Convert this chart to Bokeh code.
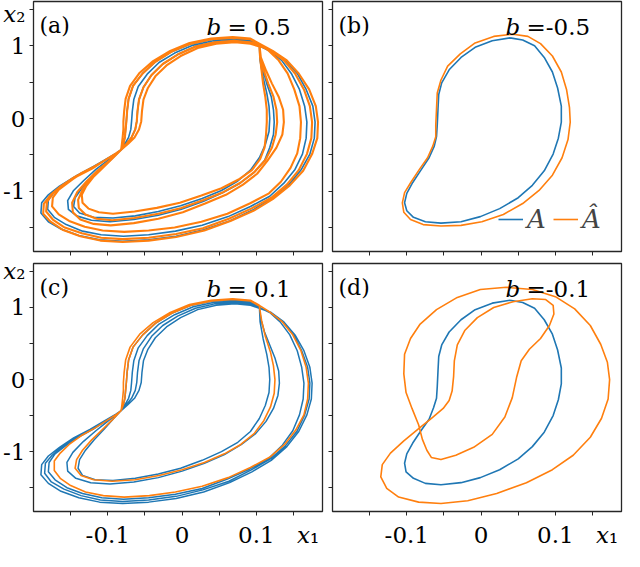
from bokeh.plotting import figure
from bokeh.layouts import gridplot
from bokeh.models import Range1d, FixedTicker, Label, Legend, LegendItem
from bokeh.embed import file_html
from bokeh.resources import INLINE

TRUE_COLOR = "#1f77b4"
PRED_COLOR = "#ff7f0e"
FRAME_COLOR = "#262626"
SERIF = "DejaVu Serif"

X_LIMITS = (-0.2, 0.189)
Y_LIMITS = (-1.83, 1.61)
X_TICKS = [-0.15, -0.1, -0.05, 0.0, 0.05, 0.1, 0.15]
# the axis names x1 / x2 sit at the last (unlabelled) tick of each axis, as in the picture
X_TICK_LABELS = ["", "-0.1", "", "0", "", "0.1", "\u00a0\u00a0\u00a0\u00a0\U0001D465\u2081"]
Y_TICKS = [-1.5, -1.0, -0.5, 0.0, 0.5, 1.0, 1.5]
Y_TICK_LABELS = ["", "-1", "", "0", "", "1", "\U0001D465\u2082"]
PANEL_TAGS = ["(a)", "(b)", "(c)", "(d)"]
B_VALUES = ["0.5", "-0.5", "0.1", "-0.1"]
LEGEND_LABELS = ["A", "\u00c2"]

# ---- panels (a) and (c): strands ----
PINCH = (-0.082, -0.43)

S1 = [(-0.073, -0.35), (-0.064, -0.26), (-0.058, -0.15), (-0.055, -0.04), (-0.054, 0.10), (-0.052, 0.26),
      (-0.046, 0.42), (-0.036, 0.58), (-0.021, 0.73), (-0.002, 0.86), (0.021, 0.97), (0.046, 1.03),
      (0.071, 1.05), (0.092, 1.03), (0.104, 0.99)]
S2 = [(-0.075, -0.35), (-0.068, -0.26), (-0.063, -0.15), (-0.061, -0.04), (-0.060, 0.10), (-0.058, 0.26),
      (-0.052, 0.43), (-0.041, 0.60), (-0.026, 0.75), (-0.006, 0.88), (0.018, 0.99), (0.044, 1.05),
      (0.070, 1.07), (0.092, 1.05), (0.104, 1.00)]
S3 = [(-0.077, -0.35), (-0.072, -0.26), (-0.069, -0.15), (-0.068, -0.04), (-0.067, 0.10), (-0.065, 0.26),
      (-0.059, 0.44), (-0.047, 0.61), (-0.031, 0.77), (-0.010, 0.90), (0.015, 1.01), (0.042, 1.07),
      (0.069, 1.09), (0.092, 1.07), (0.104, 1.01)]
S4 = [(-0.079, -0.35), (-0.077, -0.26), (-0.076, -0.15), (-0.075, -0.04), (-0.074, 0.10), (-0.072, 0.27),
      (-0.066, 0.45), (-0.053, 0.62), (-0.036, 0.78), (-0.014, 0.92), (0.012, 1.03), (0.040, 1.09),
      (0.068, 1.11), (0.092, 1.09), (0.104, 1.02)]
S5 = [(-0.081, -0.35), (-0.080, -0.26), (-0.079, -0.15), (-0.079, -0.04), (-0.078, 0.10), (-0.076, 0.27),
      (-0.070, 0.45), (-0.057, 0.63), (-0.039, 0.79), (-0.016, 0.93), (0.010, 1.04), (0.039, 1.10),
      (0.068, 1.12), (0.092, 1.10), (0.104, 1.03)]

C_OUT1 = [(0.120, 0.93), (0.137, 0.80), (0.152, 0.62), (0.164, 0.40), (0.172, 0.17), (0.175, -0.05),
          (0.174, -0.27), (0.168, -0.49), (0.157, -0.72), (0.141, -0.93), (0.120, -1.12), (0.094, -1.28),
          (0.064, -1.43), (0.029, -1.56), (-0.008, -1.65), (-0.045, -1.70), (-0.080, -1.72), (-0.111, -1.70),
          (-0.139, -1.64), (-0.163, -1.55), (-0.180, -1.44), (-0.190, -1.32), (-0.189, -1.18), (-0.180, -1.06),
          (-0.165, -0.94), (-0.146, -0.81), (-0.124, -0.69), (-0.104, -0.57), (-0.089, -0.48)]
C_OUT2 = [(0.119, 0.93), (0.136, 0.80), (0.150, 0.62), (0.161, 0.40), (0.169, 0.17), (0.172, -0.05),
          (0.171, -0.27), (0.165, -0.49), (0.155, -0.71), (0.139, -0.92), (0.119, -1.10), (0.092, -1.26),
          (0.063, -1.41), (0.028, -1.53), (-0.008, -1.62), (-0.045, -1.67), (-0.080, -1.69), (-0.110, -1.67),
          (-0.136, -1.61), (-0.159, -1.52), (-0.176, -1.42), (-0.185, -1.30), (-0.184, -1.16), (-0.175, -1.05),
          (-0.161, -0.93), (-0.143, -0.81), (-0.122, -0.69), (-0.103, -0.57), (-0.089, -0.48)]
C_OUT3 = [(0.118, 0.93), (0.132, 0.80), (0.145, 0.62), (0.155, 0.40), (0.161, 0.17), (0.164, -0.05),
          (0.163, -0.27), (0.158, -0.49), (0.149, -0.71), (0.135, -0.91), (0.117, -1.09), (0.091, -1.24),
          (0.061, -1.38), (0.027, -1.51), (-0.009, -1.59), (-0.045, -1.64), (-0.079, -1.66), (-0.108, -1.64),
          (-0.134, -1.58), (-0.155, -1.50), (-0.171, -1.39), (-0.180, -1.28), (-0.179, -1.15), (-0.171, -1.03),
          (-0.157, -0.92), (-0.140, -0.80), (-0.120, -0.69), (-0.102, -0.57), (-0.088, -0.48)]
C_OUT_P = [(0.119, 0.93), (0.135, 0.80), (0.149, 0.62), (0.160, 0.40), (0.167, 0.17), (0.170, -0.05),
           (0.169, -0.27), (0.164, -0.49), (0.153, -0.70), (0.138, -0.90), (0.119, -1.07), (0.092, -1.22),
           (0.062, -1.36), (0.027, -1.48), (-0.009, -1.56), (-0.044, -1.61), (-0.078, -1.63), (-0.106, -1.61),
           (-0.130, -1.56), (-0.150, -1.47), (-0.164, -1.37), (-0.172, -1.26), (-0.172, -1.13), (-0.164, -1.02),
           (-0.152, -0.90), (-0.136, -0.78), (-0.117, -0.67), (-0.100, -0.56), (-0.088, -0.48)]
C_IN1 = [(0.105, 0.80), (0.109, 0.57), (0.114, 0.35), (0.117, 0.17), (0.118, 0.00), (0.117, -0.18),
         (0.112, -0.36), (0.104, -0.54), (0.092, -0.72), (0.075, -0.87), (0.053, -1.00), (0.027, -1.12),
         (-0.002, -1.23), (-0.032, -1.31), (-0.063, -1.37), (-0.093, -1.40), (-0.117, -1.39), (-0.134, -1.33),
         (-0.140, -1.23), (-0.138, -1.11), (-0.130, -0.98), (-0.118, -0.83), (-0.105, -0.69), (-0.093, -0.55)]
C_IN2 = [(0.106, 0.84), (0.111, 0.66), (0.118, 0.48), (0.125, 0.30), (0.130, 0.12), (0.131, -0.05),
         (0.129, -0.22), (0.123, -0.40), (0.113, -0.58), (0.099, -0.75), (0.080, -0.90), (0.057, -1.04),
         (0.030, -1.16), (0.000, -1.27), (-0.032, -1.36), (-0.065, -1.42), (-0.097, -1.45), (-0.123, -1.43),
         (-0.143, -1.37), (-0.154, -1.27), (-0.155, -1.15), (-0.147, -1.01), (-0.133, -0.86), (-0.116, -0.71),
         (-0.099, -0.57)]
C_IN_P = [(0.107, 0.82), (0.112, 0.60), (0.119, 0.38), (0.123, 0.19), (0.125, 0.00), (0.124, -0.19),
          (0.119, -0.38), (0.110, -0.57), (0.097, -0.75), (0.079, -0.90), (0.057, -1.03), (0.030, -1.15),
          (0.000, -1.25), (-0.031, -1.33), (-0.063, -1.39), (-0.094, -1.41), (-0.119, -1.39), (-0.136, -1.33),
          (-0.144, -1.23), (-0.142, -1.11), (-0.134, -0.98), (-0.122, -0.84), (-0.108, -0.70), (-0.094, -0.56)]

A_OUT_T1 = [(0.121, 0.93), (0.139, 0.80), (0.155, 0.62), (0.167, 0.40), (0.176, 0.17), (0.179, -0.05),
            (0.178, -0.27), (0.172, -0.49), (0.160, -0.71), (0.143, -0.92), (0.121, -1.10), (0.095, -1.26),
            (0.064, -1.41), (0.029, -1.53), (-0.008, -1.62), (-0.045, -1.67), (-0.080, -1.69), (-0.111, -1.67),
            (-0.139, -1.61), (-0.163, -1.52), (-0.180, -1.42), (-0.190, -1.30), (-0.189, -1.16), (-0.180, -1.05),
            (-0.165, -0.93), (-0.146, -0.81), (-0.124, -0.69), (-0.104, -0.57), (-0.089, -0.48)]
A_OUT_T2 = [(0.118, 0.93), (0.134, 0.80), (0.147, 0.62), (0.158, 0.40), (0.165, 0.17), (0.168, -0.05),
            (0.167, -0.27), (0.162, -0.49), (0.152, -0.70), (0.137, -0.89), (0.118, -1.07), (0.092, -1.21),
            (0.062, -1.35), (0.027, -1.47), (-0.009, -1.55), (-0.045, -1.60), (-0.079, -1.62), (-0.109, -1.60),
            (-0.134, -1.55), (-0.156, -1.46), (-0.172, -1.36), (-0.181, -1.25), (-0.180, -1.12), (-0.172, -1.01),
            (-0.158, -0.90), (-0.141, -0.78), (-0.121, -0.67), (-0.102, -0.56), (-0.088, -0.48)]
A_OUT_P1 = [(0.122, 0.93), (0.141, 0.80), (0.157, 0.62), (0.171, 0.40), (0.180, 0.17), (0.183, -0.05),
            (0.182, -0.27), (0.175, -0.49), (0.163, -0.72), (0.145, -0.92), (0.122, -1.11), (0.096, -1.27),
            (0.065, -1.41), (0.030, -1.54), (-0.008, -1.63), (-0.045, -1.68), (-0.080, -1.70), (-0.110, -1.68),
            (-0.137, -1.62), (-0.161, -1.53), (-0.177, -1.42), (-0.187, -1.31), (-0.186, -1.17), (-0.177, -1.05),
            (-0.163, -0.93), (-0.144, -0.80), (-0.123, -0.69), (-0.103, -0.57), (-0.089, -0.48)]
A_OUT_P2 = [(0.120, 0.93), (0.137, 0.80), (0.152, 0.62), (0.164, 0.40), (0.172, 0.17), (0.175, -0.05),
            (0.174, -0.27), (0.168, -0.49), (0.157, -0.71), (0.141, -0.91), (0.120, -1.09), (0.093, -1.24),
            (0.063, -1.38), (0.028, -1.51), (-0.008, -1.59), (-0.045, -1.64), (-0.080, -1.66), (-0.109, -1.64),
            (-0.135, -1.58), (-0.158, -1.50), (-0.174, -1.39), (-0.183, -1.28), (-0.182, -1.15), (-0.174, -1.03),
            (-0.160, -0.92), (-0.142, -0.80), (-0.121, -0.69), (-0.103, -0.57), (-0.089, -0.48)]
A_OUT_P3 = [(0.117, 0.93), (0.130, 0.80), (0.142, 0.62), (0.151, 0.40), (0.158, 0.17), (0.160, -0.05),
            (0.159, -0.27), (0.155, -0.48), (0.146, -0.68), (0.133, -0.87), (0.117, -1.03), (0.091, -1.17),
            (0.061, -1.31), (0.026, -1.42), (-0.010, -1.50), (-0.045, -1.54), (-0.078, -1.56), (-0.107, -1.54),
            (-0.131, -1.49), (-0.152, -1.41), (-0.166, -1.32), (-0.175, -1.21), (-0.174, -1.09), (-0.166, -0.98),
            (-0.153, -0.88), (-0.137, -0.76), (-0.118, -0.66), (-0.101, -0.56), (-0.088, -0.48)]
A_IN_T1 = [(0.105, 0.84), (0.109, 0.66), (0.114, 0.48), (0.120, 0.30), (0.123, 0.12), (0.124, -0.05),
           (0.123, -0.22), (0.118, -0.40), (0.111, -0.58), (0.097, -0.74), (0.078, -0.89), (0.055, -1.02),
           (0.029, -1.14), (-0.001, -1.25), (-0.032, -1.33), (-0.065, -1.39), (-0.097, -1.42), (-0.122, -1.40),
           (-0.142, -1.34), (-0.153, -1.25), (-0.154, -1.13), (-0.146, -0.99), (-0.132, -0.85), (-0.116, -0.70),
           (-0.099, -0.57)]
A_IN_T2 = [(0.105, 0.80), (0.109, 0.57), (0.114, 0.35), (0.117, 0.17), (0.118, 0.00), (0.117, -0.18),
           (0.112, -0.36), (0.104, -0.54), (0.092, -0.71), (0.075, -0.86), (0.053, -0.99), (0.027, -1.10),
           (-0.002, -1.20), (-0.032, -1.28), (-0.063, -1.34), (-0.093, -1.37), (-0.119, -1.36), (-0.138, -1.30),
           (-0.146, -1.21), (-0.144, -1.09), (-0.135, -0.96), (-0.122, -0.82), (-0.108, -0.68), (-0.094, -0.55)]
A_IN_P1 = [(0.106, 0.84), (0.113, 0.66), (0.121, 0.48), (0.130, 0.30), (0.136, 0.12), (0.137, -0.05),
           (0.135, -0.22), (0.127, -0.40), (0.115, -0.58), (0.101, -0.76), (0.082, -0.91), (0.059, -1.05),
           (0.031, -1.17), (0.001, -1.29), (-0.032, -1.38), (-0.065, -1.44), (-0.096, -1.47), (-0.119, -1.45),
           (-0.137, -1.39), (-0.147, -1.29), (-0.148, -1.16), (-0.141, -1.01), (-0.128, -0.86), (-0.113, -0.71),
           (-0.097, -0.57)]
A_IN_P2 = [(0.106, 0.84), (0.110, 0.66), (0.116, 0.48), (0.123, 0.30), (0.127, 0.12), (0.128, -0.05),
           (0.126, -0.22), (0.121, -0.40), (0.112, -0.57), (0.098, -0.73), (0.079, -0.88), (0.056, -1.01),
           (0.029, -1.12), (-0.001, -1.23), (-0.032, -1.31), (-0.064, -1.37), (-0.094, -1.40), (-0.115, -1.38),
           (-0.130, -1.32), (-0.139, -1.23), (-0.140, -1.12), (-0.134, -0.98), (-0.123, -0.84), (-0.109, -0.70),
           (-0.096, -0.57)]
A_IN_P3 = [(0.105, 0.84), (0.107, 0.66), (0.109, 0.48), (0.112, 0.30), (0.114, 0.12), (0.114, -0.05),
           (0.113, -0.22), (0.111, -0.40), (0.105, -0.56), (0.094, -0.71), (0.076, -0.84), (0.053, -0.96),
           (0.026, -1.06), (-0.003, -1.16), (-0.034, -1.23), (-0.064, -1.28), (-0.093, -1.31), (-0.112, -1.29),
           (-0.126, -1.24), (-0.134, -1.16), (-0.135, -1.05), (-0.129, -0.93), (-0.119, -0.80), (-0.107, -0.67),
           (-0.094, -0.55)]

# ---- panels (b) and (d): closed orbits ----
B_TRUE = [(0.039, 1.11), (0.056, 1.08), (0.072, 1.00), (0.085, 0.84), (0.096, 0.64), (0.103, 0.42),
          (0.108, 0.17), (0.108, -0.05), (0.104, -0.27), (0.097, -0.49), (0.085, -0.72), (0.069, -0.92),
          (0.050, -1.09), (0.025, -1.24), (-0.001, -1.35), (-0.027, -1.42), (-0.054, -1.44), (-0.075, -1.42),
          (-0.091, -1.36), (-0.100, -1.27), (-0.103, -1.16), (-0.100, -1.03), (-0.092, -0.88), (-0.081, -0.71),
          (-0.070, -0.54), (-0.063, -0.38), (-0.060, -0.25), (-0.059, -0.09), (-0.058, 0.13), (-0.057, 0.33),
          (-0.053, 0.49), (-0.043, 0.67), (-0.027, 0.84), (-0.008, 0.98), (0.015, 1.07), (0.039, 1.11)]
B_PRED = [(0.043, 1.16), (0.063, 1.13), (0.080, 1.03), (0.096, 0.86), (0.108, 0.64), (0.115, 0.40),
          (0.119, 0.15), (0.120, -0.05), (0.117, -0.29), (0.109, -0.54), (0.096, -0.78), (0.078, -0.99),
          (0.056, -1.17), (0.030, -1.32), (0.001, -1.42), (-0.027, -1.47), (-0.054, -1.48), (-0.078, -1.46),
          (-0.095, -1.39), (-0.104, -1.29), (-0.106, -1.16), (-0.103, -1.02), (-0.094, -0.87), (-0.083, -0.70),
          (-0.072, -0.54), (-0.065, -0.38), (-0.061, -0.25), (-0.061, -0.09), (-0.060, 0.13), (-0.059, 0.35),
          (-0.054, 0.53), (-0.045, 0.72), (-0.028, 0.89), (-0.008, 1.04), (0.017, 1.13), (0.043, 1.16)]
D_TRUE = [(0.039, 1.10), (0.056, 1.07), (0.072, 0.99), (0.085, 0.83), (0.096, 0.63), (0.103, 0.41),
          (0.108, 0.16), (0.108, -0.06), (0.104, -0.28), (0.097, -0.50), (0.085, -0.73), (0.069, -0.93),
          (0.050, -1.10), (0.025, -1.25), (-0.001, -1.36), (-0.027, -1.43), (-0.054, -1.46), (-0.075, -1.44),
          (-0.091, -1.37), (-0.101, -1.28), (-0.103, -1.16), (-0.100, -1.03), (-0.092, -0.88), (-0.081, -0.71),
          (-0.070, -0.55), (-0.064, -0.39), (-0.060, -0.26), (-0.059, -0.10), (-0.058, 0.12), (-0.057, 0.32),
          (-0.053, 0.48), (-0.043, 0.66), (-0.027, 0.83), (-0.008, 0.97), (0.015, 1.06), (0.039, 1.10)]
D_PRED = [(0.034, 1.28), (0.069, 1.25), (0.100, 1.15), (0.126, 0.98), (0.147, 0.75), (0.161, 0.49),
          (0.170, 0.24), (0.173, 0.00), (0.171, -0.27), (0.162, -0.54), (0.147, -0.80), (0.124, -1.05),
          (0.096, -1.25), (0.061, -1.43), (0.021, -1.58), (-0.018, -1.68), (-0.054, -1.72), (-0.084, -1.70),
          (-0.111, -1.63), (-0.127, -1.51), (-0.135, -1.35), (-0.133, -1.18), (-0.122, -1.02), (-0.104, -0.85),
          (-0.084, -0.68), (-0.066, -0.53), (-0.051, -0.40), (-0.043, -0.29), (-0.039, -0.16), (-0.037, 0.04),
          (-0.036, 0.26), (-0.032, 0.48), (-0.022, 0.68), (-0.005, 0.86), (0.017, 1.00), (0.043, 1.08),
          (0.069, 1.12), (0.087, 1.11), (0.097, 1.03), (0.098, 0.91), (0.092, 0.75), (0.080, 0.57),
          (0.065, 0.42), (0.054, 0.26), (0.048, 0.04), (0.042, -0.25), (0.032, -0.52), (0.015, -0.76),
          (-0.010, -0.94), (-0.034, -1.05), (-0.054, -1.11), (-0.067, -1.08), (-0.073, -0.98), (-0.079, -0.83),
          (-0.084, -0.63), (-0.093, -0.40), (-0.101, -0.18), (-0.104, 0.08), (-0.103, 0.35), (-0.095, 0.57),
          (-0.082, 0.77), (-0.060, 0.97), (-0.032, 1.14), (-0.001, 1.25), (0.034, 1.28)]


def trajectory(*loops):
    pts = [PINCH]
    for strand, branch in loops:
        pts = pts + strand + branch + [PINCH]
    return [q[0] for q in pts], [q[1] for q in pts]


def closed(points):
    return [q[0] for q in points], [q[1] for q in points]


A_TRUE_XY = trajectory((S3, A_OUT_T1), (S3, A_IN_T1), (S2, A_OUT_T2), (S4, A_IN_T2))
A_PRED_XY = trajectory((S5, A_OUT_P1), (S4, A_IN_P1), (S2, A_OUT_P2), (S1, A_IN_P2), (S5, A_OUT_P3), (S2, A_IN_P3))
C_TRUE_XY = trajectory((S1, C_OUT1), (S4, C_IN1), (S2, C_OUT2), (S3, C_IN2), (S2, C_OUT3))
C_PRED_XY = trajectory((S5, C_OUT_P), (S4, C_IN_P))

SERIES = [
    (A_TRUE_XY, A_PRED_XY, 1.6, 2.1),
    (closed(B_TRUE), closed(B_PRED), 1.6, 1.6),
    (C_TRUE_XY, C_PRED_XY, 1.5, 1.6),
    (closed(D_TRUE), closed(D_PRED), 1.6, 1.6),
]


def add_text(p, text, ax, ay, dx, dy, size, italic=False):
    p.add_layout(Label(x=ax, y=ay, x_offset=dx, y_offset=dy, text=text,
                       text_font=SERIF, text_font_size=size,
                       text_font_style="italic" if italic else "normal",
                       text_baseline="alphabetic", text_align="left", text_color="black"))


def make_panel(idx):
    col, row = idx % 2, idx // 2
    left, bottom = col == 0, row == 1
    p = figure(width=327 if left else 296, height=293 if bottom else 257,
               x_range=Range1d(*X_LIMITS), y_range=Range1d(*Y_LIMITS),
               output_backend="svg", toolbar_location=None,
               min_border_left=33 if left else 5, min_border_right=5 if left else 2,
               min_border_top=6 if bottom else 1, min_border_bottom=37 if bottom else 6)
    p.grid.visible = False
    p.outline_line_color = FRAME_COLOR
    p.outline_line_width = 1.3
    p.outline_line_alpha = 1.0
    for axis, ticks, labels, show, standoff in ((p.xaxis[0], X_TICKS, X_TICK_LABELS, bottom, 6),
                                                (p.yaxis[0], Y_TICKS, Y_TICK_LABELS, left, 4)):
        axis.ticker = FixedTicker(ticks=ticks, minor_ticks=[])
        axis.axis_line_color = None
        axis.major_tick_in = 0
        axis.major_tick_out = 4
        axis.major_tick_line_color = FRAME_COLOR
        axis.minor_tick_line_color = None
        if show:
            axis.major_label_overrides = {t: s for t, s in zip(ticks, labels)}
            axis.major_label_text_font = SERIF
            axis.major_label_text_font_size = "23px"
            axis.major_label_text_color = "black"
            axis.major_label_standoff = standoff
        else:
            axis.major_label_overrides = {t: "" for t in ticks}
            axis.major_label_text_font_size = "0px"
            axis.major_label_standoff = 0

    (tx, ty), (px, py), tw, pw = SERIES[idx]
    r_true = p.line(tx, ty, line_color=TRUE_COLOR, line_width=tw, line_join="round")
    r_pred = p.line(px, py, line_color=PRED_COLOR, line_width=pw, line_join="round")

    xmin, ymax = X_LIMITS[0], Y_LIMITS[1]
    add_text(p, PANEL_TAGS[idx], xmin, ymax, 6, -24, "22px")
    add_text(p, "b", xmin, ymax, 173, -25, "23px", italic=True)
    bval = B_VALUES[idx]
    add_text(p, ("=" + bval) if bval.startswith("-") else ("= " + bval), xmin, ymax, 194, -25, "23px")
    if idx == 1:
        legend = Legend(items=[LegendItem(label=LEGEND_LABELS[0], renderers=[r_true]),
                               LegendItem(label=LEGEND_LABELS[1], renderers=[r_pred])],
                        orientation="horizontal", location=(166, 17), glyph_width=25, glyph_height=20,
                        label_standoff=4, spacing=6, padding=0, margin=0, border_line_color=None,
                        background_fill_alpha=0, label_text_font=SERIF, label_text_font_size="26px",
                        label_text_font_style="italic", label_height=20)
        p.add_layout(legend)
    return p


panels = [make_panel(i) for i in range(4)]
grid = gridplot([[panels[0], panels[1]], [panels[2], panels[3]]], toolbar_location=None)

with open("out.html", "w") as f:
    f.write(file_html(grid, INLINE))
